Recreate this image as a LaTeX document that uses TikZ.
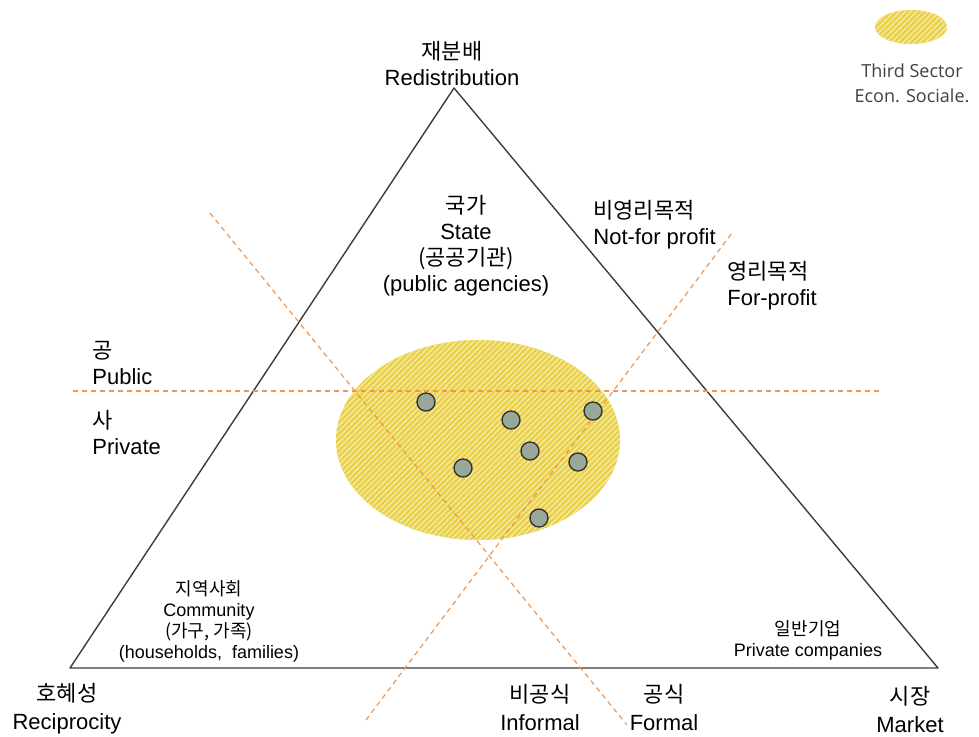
\documentclass[tikz,border=0pt]{standalone}
\usepackage{fontspec}
\setmainfont{Liberation Sans}
\newfontfamily\kr{Noto Sans CJK KR}
\newfontfamily\legendfont{Open Sans}
\usetikzlibrary{patterns.meta}
\definecolor{splitorange}{RGB}{240,150,80}
\definecolor{sectoryellow}{RGB}{232,208,72}
\definecolor{sectorstripe}{RGB}{246,234,160}
\definecolor{dotgrey}{RGB}{154,168,154}
\definecolor{edgegrey}{RGB}{60,60,60}

\begin{document}
\begin{tikzpicture}[x=0.5pt,y=-0.5pt,
		edge line/.style={draw=edgegrey,line width=0.7pt,line join=round},
		split line/.style={draw=splitorange,line width=0.6pt,dash pattern=on 2.5pt off 2pt},
		big label/.style={inner sep=0pt,align=center,font=\fontsize{11}{13}\selectfont},
		small label/.style={inner sep=0pt,align=center,font=\fontsize{9}{10.5}\selectfont},
		member/.style={circle,draw=black!80,fill=dotgrey,line width=0.7pt,minimum size=9pt,inner sep=0pt},
		sector/.style={fill=sectoryellow,postaction={pattern={Lines[angle=45,distance=2pt,line width=0.7pt]},pattern color=sectorstripe}}]
		
		\useasboundingbox (0,0) rectangle (979,736);
		
		\coordinate (apex) at (454,88);
		\coordinate (recip corner) at (70,668);
		\coordinate (market corner) at (938,668);
		\coordinate (public w) at (73,391);
		\coordinate (public e) at (880,391);
		\coordinate (informal n) at (210,213);
		\coordinate (informal s) at (627,725);
		\coordinate (profit n) at (732,233);
		\coordinate (profit s) at (366,720);
		
		\draw[edge line] (apex) -- (recip corner) -- (market corner) -- cycle;
		
		% third sector
		\path[sector] (478,440) ellipse [x radius=142, y radius=100];
		
		\draw[split line] (public w) -- (public e);
		\draw[split line] (informal n) -- (informal s);
		\draw[split line] (profit s) -- (profit n);
		
		\foreach \name/\pos in {m1/{(426,402)},m2/{(511,420)},m3/{(593,411)},m4/{(530,451)},m5/{(463,468)},m6/{(578,462)},m7/{(539,518)}}
		\node[member] (\name) at \pos {};
		
		\node[big label] (redist) at (452,63) {{\kr 재분배}\\Redistribution};
		\node[big label] (state) at (466,246) {{\kr 국가}\\State\\{\kr (공공기관)}\\(public agencies)};
		\node[big label,anchor=west,align=left] (nonprofit) at (593,225) {{\kr 비영리목적}\\Not-for profit};
		\node[big label,anchor=west,align=left] (forprofit) at (727,286) {{\kr 영리목적}\\For-profit};
		\node[big label,anchor=west,align=left] (public) at (92,363) {{\kr 공}\\Public};
		\node[big label,anchor=west,align=left] (private) at (92,432) {{\kr 사}\\Private};
		\node[small label] (community) at (209,621) {{\kr 지역사회}\\Community\\{\kr (가구, 가족)}\\(households,~~families)};
		\node[small label] (companies) at (808,640) {{\kr 일반기업}\\Private companies};
		\node[big label,font=\fontsize{11}{14}\selectfont] (recip) at (67,709) {{\kr 호혜성}\\Reciprocity};
		\node[big label,font=\fontsize{11}{14}\selectfont] (informal) at (540,707) {{\kr 비공식}\\Informal};
		\node[big label,font=\fontsize{11}{14}\selectfont] (formal) at (664,707) {{\kr 공식}\\Formal};
		\node[big label,font=\fontsize{11}{14}\selectfont] (market) at (910,709) {{\kr 시장}\\Market};
		
		% legend
		\path[sector] (911,27) ellipse [x radius=36, y radius=17];
		\node[small label,font=\legendfont\fontsize{9}{12.5}\selectfont,text=black!75] (legend) at (912,83) {Third Sector\\Econ. Sociale.};
\end{tikzpicture}
\end{document}
